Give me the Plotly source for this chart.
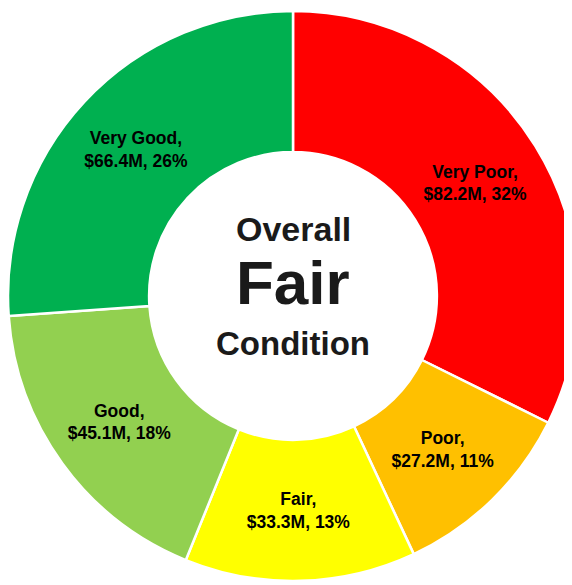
import plotly.graph_objects as go

categories = ["Very Poor", "Poor", "Fair", "Good", "Very Good"]
values_musd = [82.2, 27.2, 33.3, 45.1, 66.4]
percent_labels = ["32%", "11%", "13%", "18%", "26%"]
colors = ["#FF0000", "#FFC000", "#FFFF00", "#92D050", "#00B050"]
center_lines = ["Overall", "Fair", "Condition"]

text = [f"<b>{c},</b><br><b>${v}M, {p}</b>" for c, v, p in zip(categories, values_musd, percent_labels)]

fig = go.Figure(go.Pie(
    labels=categories,
    values=values_musd,
    text=text,
    textinfo="text",
    textposition="inside",
    insidetextorientation="horizontal",
    sort=False,
    direction="clockwise",
    rotation=0,
    hole=0.505,
    marker=dict(colors=colors, line=dict(color="white", width=2.5)),
    textfont=dict(family="Liberation Sans, Arial, sans-serif", size=17.5, color="black"),
    domain=dict(x=[0.0, 0.95], y=[0.007, 0.9948]),
    showlegend=False,
    hoverinfo="label+value+percent",
))

font = "Liberation Sans, Arial, sans-serif"
fig.add_annotation(x=0.475, y=0.617, xref="paper", yref="paper", text=f"<b>{center_lines[0]}</b>",
                   showarrow=False, font=dict(family=font, size=34, color="#1a1a1a"))
fig.add_annotation(x=0.475, y=0.5234, xref="paper", yref="paper", text=f"<b>{center_lines[1]}</b>",
                   showarrow=False, font=dict(family=font, size=62, color="#1a1a1a"))
fig.add_annotation(x=0.475, y=0.4177, xref="paper", yref="paper", text=f"<b>{center_lines[2]}</b>",
                   showarrow=False, font=dict(family=font, size=33, color="#1a1a1a"))

fig.update_layout(width=600, height=577, margin=dict(l=0, r=0, t=0, b=0),
                  paper_bgcolor="white", plot_bgcolor="white")
fig.write_html("out.html")
